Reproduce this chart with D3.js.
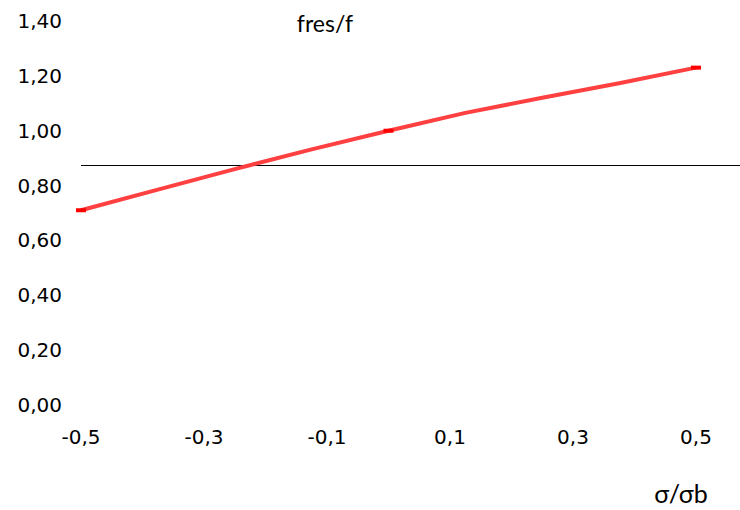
<!DOCTYPE html>
<html>
<head>
<meta charset="utf-8">
<script src="https://cdn.jsdelivr.net/npm/d3@7"></script>
<style>
  body { margin: 0; background: #fff; }
  .tick-label { font-family: "DejaVu Sans", Verdana, sans-serif; font-size: 20px; fill: #000; }
  .title { font-family: Lato, "Open Sans", sans-serif; font-size: 23px; fill: #000; }
</style>
</head>
<body>
<div id="chart"></div>
<script>
// --- data ---
const xValues = [-0.5, -0.375, -0.25, -0.125, 0, 0.125, 0.25, 0.375, 0.5];
const ratioValues = [0.71, 0.785, 0.86, 0.932, 1.00, 1.065, 1.12, 1.173, 1.23];
const markerX = [-0.5, 0, 0.5];
const referenceLevel = [0.875];
const xTicks = [-0.5, -0.3, -0.1, 0.1, 0.3, 0.5];
const yTicks = [0, 0.2, 0.4, 0.6, 0.8, 1.0, 1.2, 1.4];

const W = 740, H = 510;

const svg = d3.select("#chart").append("svg")
    .attr("width", W)
    .attr("height", H);

const x = d3.scaleLinear().domain([-0.5, 0.5]).range([81, 696]);
const y = d3.scaleLinear().domain([0, 1.4]).range([405, 21]);

// comma decimal separator, plain hyphen for minus
const locale = d3.formatLocale({ decimal: ",", thousands: ".", grouping: [3], currency: ["", ""], minus: "-" });
const fmtY = locale.format(".2f");
const fmtX = locale.format(".1f");

// y tick labels
svg.append("g").selectAll("text")
    .data(yTicks)
    .join("text")
    .attr("class", "tick-label")
    .attr("x", 62)
    .attr("y", d => y(d))
    .attr("dy", "0.35em")
    .attr("text-anchor", "end")
    .text(fmtY);

// x tick labels
svg.append("g").selectAll("text")
    .data(xTicks)
    .join("text")
    .attr("class", "tick-label")
    .attr("x", d => x(d))
    .attr("y", 437)
    .attr("dy", "0.35em")
    .attr("text-anchor", "middle")
    .text(fmtX);

// horizontal reference line, running to the right edge
svg.append("line")
    .attr("x1", x(-0.5))
    .attr("x2", W)
    .attr("y1", y(referenceLevel[0]))
    .attr("y2", y(referenceLevel[0]))
    .attr("stroke", "#000")
    .attr("stroke-width", 1)
    .attr("shape-rendering", "crispEdges");

// red series line
const line = d3.line()
    .x((d, i) => x(xValues[i]))
    .y(d => y(d));

svg.append("path")
    .datum(ratioValues)
    .attr("fill", "none")
    .attr("stroke", "#ff4040")
    .attr("stroke-width", 4)
    .attr("d", line);

// small dash markers
svg.append("g").selectAll("rect")
    .data(markerX)
    .join("rect")
    .attr("x", d => x(d) - 5)
    .attr("y", d => y(ratioValues[xValues.indexOf(d)]) - 2)
    .attr("width", 10)
    .attr("height", 4)
    .attr("fill", "#ff0000");

// titles
svg.append("text")
    .attr("class", "title")
    .attr("x", 325)
    .attr("y", 32)
    .attr("text-anchor", "middle")
    .text("fres/f");

svg.append("text")
    .attr("class", "title")
    .attr("x", 681)
    .attr("y", 503)
    .attr("text-anchor", "middle")
    .style("font-size", "25px")
    .text("σ/σb");
</script>
</body>
</html>
